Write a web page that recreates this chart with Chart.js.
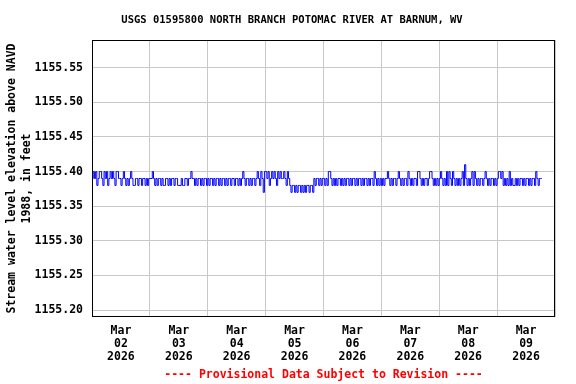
<!DOCTYPE html>
<html><head><meta charset="utf-8">
<script src="https://cdn.jsdelivr.net/npm/chart.js@4/dist/chart.umd.min.js"></script>
<style>html,body{margin:0;padding:0;background:#fff}</style>
</head><body>
<canvas id="c" width="576" height="384"></canvas>
<script>
const chartTitle = 'USGS 01595800 NORTH BRANCH POTOMAC RIVER AT BARNUM, WV';
const yAxisTitle = ['Stream water level elevation above NAVD', '1988, in feet'];
const footerText = '---- Provisional Data Subject to Revision ----';
const dayLabels = [['Mar','02','2026'],['Mar','03','2026'],['Mar','04','2026'],['Mar','05','2026'],['Mar','06','2026'],['Mar','07','2026'],['Mar','08','2026'],['Mar','09','2026']];
const yTickValues = [1155.20, 1155.25, 1155.30, 1155.35, 1155.40, 1155.45, 1155.50, 1155.55];
const stepHours = 0.5; // readings every 30 minutes, each day starting at 00:00

const mar02 = [1155.39,1155.40,1155.39,1155.40,1155.38,1155.39,1155.40,1155.40,1155.39,1155.38,1155.40,1155.39,1155.40,1155.38,1155.39,1155.40,1155.39,1155.40,1155.39,1155.38,1155.40,1155.40,1155.39,1155.39,
 1155.38,1155.39,1155.40,1155.39,1155.38,1155.39,1155.38,1155.39,1155.40,1155.39,1155.38,1155.38,1155.39,1155.39,1155.38,1155.39,1155.39,1155.38,1155.39,1155.39,1155.38,1155.39,1155.38,1155.39];
const mar03 = [1155.39,1155.39,1155.40,1155.39,1155.38,1155.39,1155.38,1155.39,1155.39,1155.38,1155.39,1155.38,1155.38,1155.39,1155.39,1155.38,1155.39,1155.38,1155.39,1155.39,1155.38,1155.39,1155.39,1155.38,
 1155.38,1155.38,1155.39,1155.38,1155.38,1155.39,1155.39,1155.38,1155.39,1155.39,1155.40,1155.39,1155.39,1155.38,1155.39,1155.38,1155.39,1155.39,1155.38,1155.39,1155.38,1155.39,1155.39,1155.38];
const mar04 = [1155.39,1155.38,1155.39,1155.39,1155.38,1155.39,1155.38,1155.39,1155.39,1155.38,1155.39,1155.38,1155.39,1155.39,1155.38,1155.39,1155.38,1155.39,1155.39,1155.38,1155.39,1155.39,1155.38,1155.39,
 1155.39,1155.38,1155.39,1155.38,1155.39,1155.40,1155.39,1155.38,1155.39,1155.39,1155.38,1155.39,1155.38,1155.39,1155.39,1155.38,1155.39,1155.40,1155.39,1155.38,1155.40,1155.39,1155.37,1155.40];
const mar05 = [1155.40,1155.39,1155.40,1155.38,1155.39,1155.40,1155.39,1155.40,1155.39,1155.38,1155.40,1155.39,1155.40,1155.39,1155.39,1155.40,1155.39,1155.38,1155.40,1155.39,
 1155.38,1155.37,1155.38,1155.38,1155.37,1155.38,1155.37,1155.38,1155.38,1155.37,1155.38,1155.37,1155.38,1155.37,1155.38,1155.38,1155.37,1155.38,1155.38,1155.37,
 1155.39,1155.38,1155.39,1155.39,1155.38,1155.39,1155.38,1155.39];
const mar06 = [1155.39,1155.38,1155.39,1155.38,1155.40,1155.40,1155.39,1155.38,1155.39,1155.38,1155.39,1155.38,1155.39,1155.39,1155.38,1155.39,1155.38,1155.39,1155.38,1155.39,1155.39,1155.38,1155.39,1155.38,
 1155.39,1155.39,1155.38,1155.39,1155.38,1155.39,1155.39,1155.38,1155.39,1155.38,1155.39,1155.39,1155.38,1155.39,1155.38,1155.39,1155.39,1155.38,1155.40,1155.39,1155.38,1155.39,1155.38,1155.39];
const mar07 = [1155.38,1155.39,1155.38,1155.39,1155.39,1155.40,1155.39,1155.38,1155.39,1155.38,1155.39,1155.39,1155.38,1155.39,1155.40,1155.39,1155.38,1155.39,1155.38,1155.39,1155.39,1155.38,1155.40,1155.39,
 1155.38,1155.39,1155.38,1155.39,1155.39,1155.38,1155.40,1155.40,1155.39,1155.38,1155.39,1155.38,1155.39,1155.39,1155.38,1155.39,1155.40,1155.40,1155.39,1155.38,1155.39,1155.38,1155.39,1155.38];
const mar08 = [1155.39,1155.40,1155.39,1155.38,1155.39,1155.38,1155.40,1155.38,1155.40,1155.39,1155.38,1155.40,1155.39,1155.38,1155.39,1155.38,1155.39,1155.38,1155.39,1155.40,1155.38,1155.41,1155.39,1155.38,
 1155.39,1155.38,1155.39,1155.40,1155.38,1155.40,1155.39,1155.38,1155.39,1155.38,1155.39,1155.39,1155.38,1155.39,1155.40,1155.39,1155.38,1155.39,1155.38,1155.39,1155.39,1155.38,1155.39,1155.38];
const mar09 = [1155.39,1155.40,1155.40,1155.39,1155.40,1155.38,1155.39,1155.38,1155.39,1155.38,1155.40,1155.38,1155.39,1155.38,1155.38,1155.39,1155.38,1155.39,1155.38,1155.39,1155.39,1155.38,1155.39,1155.38,
 1155.39,1155.39,1155.38,1155.39,1155.38,1155.39,1155.39,1155.38,1155.40,1155.39,1155.38,1155.39,1155.39,1155.39];

const dayValues = [mar02, mar03, mar04, mar05, mar06, mar07, mar08, mar09];
const points = [];
dayValues.forEach((vals, d) => vals.forEach((v, i) => points.push({x: d * 24 + i * stepHours, y: v})));

const FONT = "'DejaVu Sans Mono', 'Liberation Mono', monospace";

const framePlugin = {
  id: 'frameAndTitle',
  afterDraw(chart) {
    const a = chart.chartArea, ctx = chart.ctx;
    ctx.save();
    ctx.strokeStyle = '#000';
    ctx.lineWidth = 1;
    ctx.strokeRect(a.left + 0.5, a.top + 0.5, a.right - a.left - 1, a.bottom - a.top - 1);
    ctx.fillStyle = '#000';
    ctx.font = 'bold 10.5px ' + FONT;
    ctx.textAlign = 'center';
    ctx.textBaseline = 'middle';
    ctx.fillText(chartTitle, 292, 20);
    ctx.restore();
  }
};

new Chart(document.getElementById('c'), {
  type: 'line',
  data: {
    datasets: [{
      data: points,
      borderColor: '#0000ff',
      borderWidth: 1,
      pointRadius: 0,
      tension: 0,
      stepped: true,
      fill: false
    }]
  },
  options: {
    responsive: false,
    animation: false,
    devicePixelRatio: 1,
    layout: { padding: { left: 0, right: 21, top: 40, bottom: 0 } },
    plugins: {
      legend: { display: false },
      tooltip: { enabled: false },
      title: { display: false }
    },
    scales: {
      x: {
        type: 'linear',
        min: 0,
        max: 192,
        afterBuildTicks: (axis) => {
          const t = [];
          for (let v = 0; v <= 192; v += 12) t.push({ value: v });
          axis.ticks = t;
        },
        afterFit: (s) => { s.height = 67; },
        ticks: {
          autoSkip: false,
          maxRotation: 0,
          minRotation: 0,
          padding: 8,
          color: '#000',
          font: { family: FONT, size: 11.5, weight: 'bold', lineHeight: 1.13 },
          callback: (v) => (v % 24 === 12 ? dayLabels[(v - 12) / 24] : '')
        },
        grid: {
          drawTicks: false,
          color: (ctx) => (ctx.tick && ctx.tick.value % 24 === 0 ? '#c8c8c8' : 'rgba(0,0,0,0)'),
          lineWidth: 1
        },
        border: { display: false },
        title: {
          display: true,
          text: footerText,
          color: '#ff0000',
          font: { family: FONT, size: 11.5, weight: 'bold', lineHeight: 1.13 },
          padding: { top: 0, bottom: 2 }
        }
      },
      y: {
        min: 1155.19,
        max: 1155.59,
        afterBuildTicks: (axis) => { axis.ticks = yTickValues.map(v => ({ value: v })); },
        afterFit: (s) => { s.width = 92; },
        ticks: {
          padding: 9,
          color: '#000',
          font: { family: FONT, size: 11.5, weight: 'bold' },
          callback: (v) => Number(v).toFixed(2)
        },
        grid: { drawTicks: false, color: '#c8c8c8', lineWidth: 1 },
        border: { display: false },
        title: {
          display: true,
          text: yAxisTitle,
          color: '#000',
          font: { family: FONT, size: 11.5, weight: 'bold', lineHeight: 1.3 },
          padding: { top: 4.5, bottom: 0 }
        }
      }
    }
  },
  plugins: [framePlugin]
});
</script>
</body></html>
